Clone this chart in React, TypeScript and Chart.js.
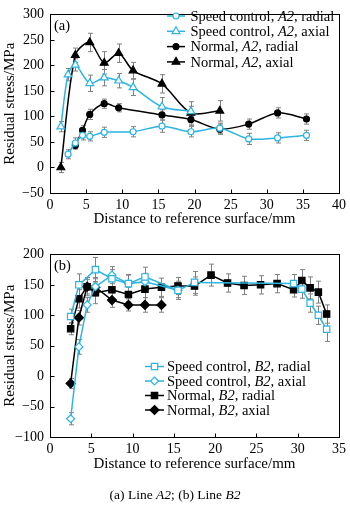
import React, { useEffect, useRef } from 'react';
import { Chart, registerables } from 'chart.js';

Chart.register(...registerables);

const SERIF = '"Liberation Serif", "Times New Roman", Times, serif';
const CYAN = '#2cb4e2';
const BLACK = '#000000';
const ERR = '#808080';

// ---------- Panel (a): Line A2 ----------
const aXTicks = [0, 5, 10, 15, 20, 25, 30, 35, 40];
const aYTicks = [-50, 0, 50, 100, 150, 200, 250, 300];

const aSpeedRadialX = [2.5, 3.5, 4.5, 5.5, 7.5, 11.5, 15.5, 19.5, 23.5, 27.5, 31.5, 35.5];
const aSpeedRadialY = [26, 48, 63, 61, 69, 70, 81, 70, 77, 56, 58, 63];
const aSpeedRadialErr = [9, 10, 9, 9, 10, 10, 12, 10, 10, 11, 10, 10];

const aSpeedAxialX = [1.5, 2.5, 3.5, 5.5, 7.5, 9.5, 11.5, 15.5, 19.5];
const aSpeedAxialY = [80, 182, 201, 165, 176, 170, 157, 119, 110];
const aSpeedAxialErr = [10, 12, 12, 16, 16, 14, 16, 18, 10];

const aNormalRadialX = [3.5, 4.5, 5.5, 7.5, 9.5, 15.5, 19.5, 23.5, 27.5, 31.5, 35.5];
const aNormalRadialY = [43, 73, 104, 125, 117, 103, 94, 75, 85, 107, 95];
const aNormalRadialErr = [7, 9, 10, 9, 8, 10, 12, 10, 10, 10, 10];

const aNormalAxialX = [1.5, 3.5, 5.5, 7.5, 9.5, 11.5, 15.5, 19.5, 23.5];
const aNormalAxialY = [0, 220, 245, 205, 224, 190, 164, 107, 111];
const aNormalAxialErr = [10, 14, 18, 22, 18, 16, 18, 22, 20];

// ---------- Panel (b): Line B2 ----------
const bXTicks = [0, 5, 10, 15, 20, 25, 30, 35];
const bYTicks = [-100, -50, 0, 50, 100, 150, 200];

const bSpeedRadialX = [2.5, 3.5, 5.5, 7.5, 9.5, 11.5, 15.5, 17.5, 29.5, 30.5, 31.5, 32.5, 33.5];
const bSpeedRadialY = [98, 150, 175, 160, 152, 163, 141, 154, 152, 143, 120, 100, 77];
const bSpeedRadialErr = [12, 18, 20, 15, 15, 16, 15, 18, 15, 15, 15, 15, 20];

const bSpeedAxialX = [2.5, 3.5, 4.5, 5.5, 7.5, 9.5, 11.5, 15.5];
const bSpeedAxialY = [-70, 48, 117, 147, 166, 152, 155, 141];
const bSpeedAxialErr = [10, 12, 12, 15, 14, 14, 14, 12];

const bNormalRadialX = [2.5, 3.5, 4.5, 5.5, 7.5, 9.5, 11.5, 13.5, 15.5, 17.5, 19.5, 21.5, 23.5, 25.5, 27.5, 29.5, 30.5, 31.5, 32.5, 33.5];
const bNormalRadialY = [78, 127, 147, 137, 142, 134, 143, 146, 148, 148, 166, 153, 149, 150, 152, 142, 157, 145, 138, 102];
const bNormalRadialErr = [10, 15, 15, 18, 15, 12, 14, 15, 14, 15, 18, 15, 15, 15, 15, 12, 18, 18, 18, 15];

const bNormalAxialX = [2.5, 3.5, 4.5, 5.5, 7.5, 9.5, 11.5, 13.5];
const bNormalAxialY = [-12, 96, 147, 146, 125, 117, 117, 117];
const bNormalAxialErr = [8, 12, 12, 14, 12, 10, 12, 12];

const xTitle = 'Distance to reference surface/mm';
const yTitle = 'Residual stress/MPa';

type Part = { t: string; i?: boolean };
type LegItem = { parts: Part[]; color: string; style: string; open: boolean; r: number };

const pts = (xs: number[], ys: number[]) => xs.map((x, i) => ({ x, y: ys[i] }));
const minus = (v: any) => String(v).replace('-', '\u2212');

function markerPath(ctx: CanvasRenderingContext2D, style: string, x: number, y: number, r: number) {
  ctx.beginPath();
  if (style === 'circle') {
    ctx.arc(x, y, r, 0, Math.PI * 2);
  } else if (style === 'triangle') {
    let rad = 0;
    ctx.moveTo(x + Math.sin(rad) * r, y - Math.cos(rad) * r);
    rad += (2 * Math.PI) / 3;
    ctx.lineTo(x + Math.sin(rad) * r, y - Math.cos(rad) * r);
    rad += (2 * Math.PI) / 3;
    ctx.lineTo(x + Math.sin(rad) * r, y - Math.cos(rad) * r);
    ctx.closePath();
  } else if (style === 'rect') {
    const s = Math.SQRT1_2 * r;
    ctx.rect(x - s, y - s, 2 * s, 2 * s);
  } else {
    ctx.moveTo(x, y - r);
    ctx.lineTo(x + r, y);
    ctx.lineTo(x, y + r);
    ctx.lineTo(x - r, y);
    ctx.closePath();
  }
}

const errorBarPlugin = {
  id: 'errorBars',
  beforeDatasetsDraw(chart: any) {
    const { ctx, scales } = chart;
    const xs = scales.x, ys = scales.y;
    ctx.save();
    ctx.strokeStyle = ERR;
    ctx.lineWidth = 1;
    chart.data.datasets.forEach((ds: any) => {
      if (!ds.errors) return;
      ds.data.forEach((p: any, i: number) => {
        const e = ds.errors[i];
        if (!e) return;
        const px = Math.round(xs.getPixelForValue(p.x)) + 0.5;
        const y1 = ys.getPixelForValue(p.y + e);
        const y2 = ys.getPixelForValue(p.y - e);
        ctx.beginPath();
        ctx.moveTo(px, y1);
        ctx.lineTo(px, y2);
        ctx.moveTo(px - 2.5, y1);
        ctx.lineTo(px + 2.5, y1);
        ctx.moveTo(px - 2.5, y2);
        ctx.lineTo(px + 2.5, y2);
        ctx.stroke();
      });
    });
    ctx.restore();
  },
};

const framePlugin = {
  id: 'frame',
  afterDraw(chart: any) {
    const { ctx, chartArea: a, scales } = chart;
    ctx.save();
    ctx.strokeStyle = '#000';
    ctx.lineWidth = 1;
    const L = Math.round(a.left) + 0.5, T = Math.round(a.top) + 0.5;
    const R = Math.round(a.right) + 0.5, B = Math.round(a.bottom) + 0.5;
    ctx.strokeRect(L, T, R - L, B - T);
    ctx.beginPath();
    scales.x.ticks.forEach((t: any) => {
      const px = Math.round(scales.x.getPixelForValue(t.value)) + 0.5;
      ctx.moveTo(px, B);
      ctx.lineTo(px, B - 4);
    });
    scales.y.ticks.forEach((t: any) => {
      const py = Math.round(scales.y.getPixelForValue(t.value)) + 0.5;
      ctx.moveTo(L, py);
      ctx.lineTo(L + 4, py);
    });
    ctx.stroke();
    ctx.restore();
  },
};

const legendPlugin = {
  id: 'customLegend',
  afterDraw(chart: any) {
    const o = chart.options.plugins.customLegend;
    if (!o) return;
    const ctx: CanvasRenderingContext2D = chart.ctx;
    ctx.save();
    // panel label
    ctx.fillStyle = '#000';
    ctx.textBaseline = 'middle';
    ctx.textAlign = 'left';
    ctx.font = `${o.size}px ${SERIF}`;
    ctx.fillText(o.panel, chart.chartArea.left + o.panelDx, chart.chartArea.top + o.panelDy);
    o.items.forEach((it: LegItem, k: number) => {
      const cy = o.y + k * o.rowH;
      ctx.strokeStyle = it.color;
      ctx.lineWidth = 1.5;
      ctx.beginPath();
      ctx.moveTo(o.x, cy);
      ctx.lineTo(o.x + o.lineLen, cy);
      ctx.stroke();
      markerPath(ctx, it.style, o.x + o.lineLen / 2, cy, it.r);
      ctx.fillStyle = it.open ? '#ffffff' : it.color;
      ctx.fill();
      ctx.lineWidth = 1.2;
      ctx.stroke();
      let tx = o.x + o.lineLen + o.gap;
      ctx.fillStyle = '#000';
      it.parts.forEach((p) => {
        ctx.font = `${p.i ? 'italic ' : ''}${o.size}px ${SERIF}`;
        ctx.fillText(p.t, tx, cy + 1);
        tx += ctx.measureText(p.t).width;
      });
    });
    ctx.restore();
  },
};

function ds(label: string, xs: number[], ys: number[], errs: number[], color: string, style: string, open: boolean, r: number, tension: number) {
  return {
    label,
    data: pts(xs, ys),
    errors: errs,
    borderColor: color,
    backgroundColor: open ? '#ffffff' : color,
    pointBackgroundColor: open ? '#ffffff' : color,
    pointBorderColor: color,
    pointBorderWidth: 1.2,
    pointStyle: style,
    pointRadius: r,
    borderWidth: 1.5,
    tension,
    fill: false,
  };
}

function makeConfig(opts: {
  datasets: any[];
  xMin: number; xMax: number; xTicks: number[];
  yMin: number; yMax: number; yTicks: number[];
  padTop: number; padRight: number; yWidth: number; xHeight: number;
  titleBottomPad: number; legend: any;
}) {
  return {
    type: 'line',
    data: { datasets: opts.datasets },
    plugins: [errorBarPlugin, framePlugin, legendPlugin],
    options: {
      responsive: false,
      animation: false,
      events: [],
      layout: { padding: { top: opts.padTop, right: opts.padRight, left: 0, bottom: 0 } },
      plugins: {
        legend: { display: false },
        tooltip: { enabled: false },
        customLegend: opts.legend,
      },
      scales: {
        x: {
          type: 'linear',
          min: opts.xMin,
          max: opts.xMax,
          afterBuildTicks: (s: any) => { s.ticks = opts.xTicks.map((v) => ({ value: v })); },
          afterFit: (s: any) => { s.height = opts.xHeight; },
          grid: { display: false, drawTicks: false },
          border: { display: false },
          ticks: { color: '#000', font: { family: SERIF, size: 14 }, padding: 4, maxRotation: 0, autoSkip: false, callback: minus },
          title: { display: true, text: xTitle, color: '#000', font: { family: SERIF, size: 15 }, padding: { top: 0, bottom: opts.titleBottomPad } },
        },
        y: {
          type: 'linear',
          min: opts.yMin,
          max: opts.yMax,
          afterBuildTicks: (s: any) => { s.ticks = opts.yTicks.map((v) => ({ value: v })); },
          afterFit: (s: any) => { s.width = opts.yWidth; },
          grid: { display: false, drawTicks: false },
          border: { display: false },
          ticks: { color: '#000', font: { family: SERIF, size: 14 }, padding: 6, autoSkip: false, callback: minus },
          title: { display: true, text: yTitle, color: '#000', font: { family: SERIF, size: 15 }, padding: { top: 1, bottom: 0 } },
        },
      },
    },
  };
}

const legendA = {
  panel: '(a)', panelDx: 4, panelDy: 12,
  x: 167, y: 16, rowH: 15.3, lineLen: 18, gap: 5.5, size: 14.5,
  items: [
    { parts: [{ t: 'Speed control, ' }, { t: 'A2', i: true }, { t: ', radial' }], color: CYAN, style: 'circle', open: true, r: 3 },
    { parts: [{ t: 'Speed control, ' }, { t: 'A2', i: true }, { t: ', axial' }], color: CYAN, style: 'triangle', open: true, r: 4.5 },
    { parts: [{ t: 'Normal, ' }, { t: 'A2', i: true }, { t: ', radial' }], color: BLACK, style: 'circle', open: false, r: 3 },
    { parts: [{ t: 'Normal, ' }, { t: 'A2', i: true }, { t: ', axial' }], color: BLACK, style: 'triangle', open: false, r: 4.5 },
  ],
};

const legendB = {
  panel: '(b)', panelDx: 4, panelDy: 12,
  x: 145, y: 126.5, rowH: 14.5, lineLen: 19, gap: 3, size: 14.5,
  items: [
    { parts: [{ t: 'Speed control, ' }, { t: 'B2', i: true }, { t: ', radial' }], color: CYAN, style: 'rect', open: true, r: 4.5 },
    { parts: [{ t: 'Speed control, ' }, { t: 'B2', i: true }, { t: ', axial' }], color: CYAN, style: 'rectRot', open: true, r: 4 },
    { parts: [{ t: 'Normal, ' }, { t: 'B2', i: true }, { t: ', radial' }], color: BLACK, style: 'rect', open: false, r: 4.5 },
    { parts: [{ t: 'Normal, ' }, { t: 'B2', i: true }, { t: ', axial' }], color: BLACK, style: 'rectRot', open: false, r: 4.5 },
  ],
};

function PanelChart({ config, top, height }: { config: any; top: number; height: number }) {
  const ref = useRef<HTMLCanvasElement | null>(null);
  useEffect(() => {
    if (!ref.current) return;
    const c = new Chart(ref.current, config);
    return () => c.destroy();
  }, []);
  return (
    <div style={{ position: 'absolute', left: 0, top, width: 350, height }}>
      <canvas ref={ref} width={350} height={height} style={{ display: 'block' }} />
    </div>
  );
}

export default function App() {
  const tA = 0.3;
  const configA = makeConfig({
    datasets: [
      ds('Speed control, A2, radial', aSpeedRadialX, aSpeedRadialY, aSpeedRadialErr, CYAN, 'circle', true, 3, tA),
      ds('Speed control, A2, axial', aSpeedAxialX, aSpeedAxialY, aSpeedAxialErr, CYAN, 'triangle', true, 4.5, tA),
      ds('Normal, A2, radial', aNormalRadialX, aNormalRadialY, aNormalRadialErr, BLACK, 'circle', false, 3, tA),
      ds('Normal, A2, axial', aNormalAxialX, aNormalAxialY, aNormalAxialErr, BLACK, 'triangle', false, 4.5, tA),
    ],
    xMin: 0, xMax: 40, xTicks: aXTicks,
    yMin: -50, yMax: 300, yTicks: aYTicks,
    padTop: 4, padRight: 7, yWidth: 50, xHeight: 57, titleBottomPad: 21.6,
    legend: legendA,
  });
  const configB = makeConfig({
    datasets: [
      ds('Speed control, B2, radial', bSpeedRadialX, bSpeedRadialY, bSpeedRadialErr, CYAN, 'rect', true, 4.5, 0),
      ds('Speed control, B2, axial', bSpeedAxialX, bSpeedAxialY, bSpeedAxialErr, CYAN, 'rectRot', true, 4, 0),
      ds('Normal, B2, radial', bNormalRadialX, bNormalRadialY, bNormalRadialErr, BLACK, 'rect', false, 4.5, 0),
      ds('Normal, B2, axial', bNormalAxialX, bNormalAxialY, bNormalAxialErr, BLACK, 'rectRot', false, 4.5, 0),
    ],
    xMin: 0, xMax: 35, xTicks: bXTicks,
    yMin: -100, yMax: 200, yTicks: bYTicks,
    padTop: 8, padRight: 7, yWidth: 50, xHeight: 53, titleBottomPad: 16.6,
    legend: legendB,
  });
  return (
    <div style={{ position: 'absolute', left: 0, top: 0, width: 350, height: 510, background: '#fff', overflow: 'hidden' }}>
      <PanelChart config={configA} top={0} height={250} />
      <PanelChart config={configB} top={240} height={250} />
      <div style={{ position: 'absolute', left: 0, top: 486, width: 350, textAlign: 'center', fontFamily: SERIF, fontSize: 13.5, lineHeight: '18px', color: '#000' }}>
        (a) Line <i>A2</i>; (b) Line <i>B2</i>
      </div>
    </div>
  );
}
